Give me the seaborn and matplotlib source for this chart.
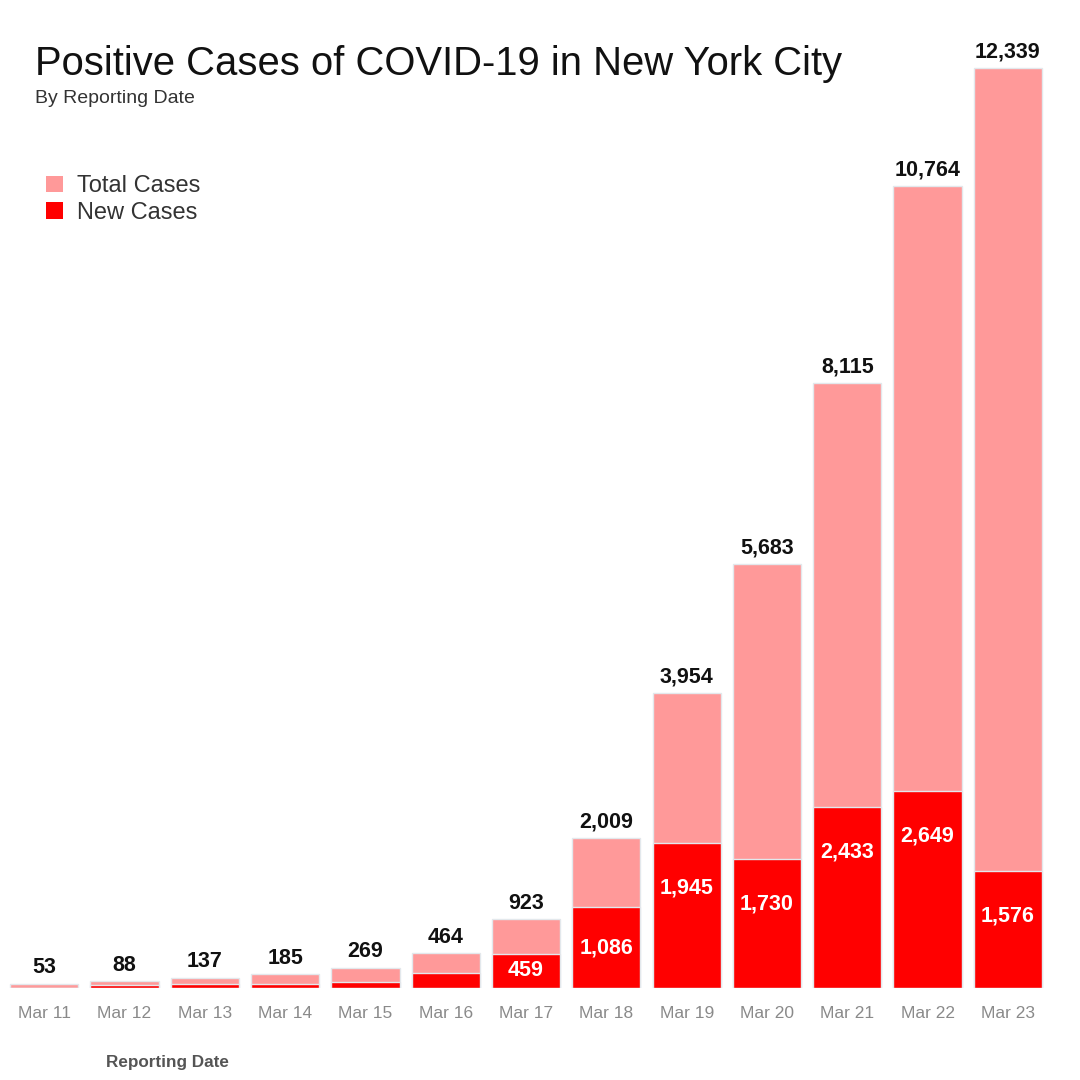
import matplotlib
matplotlib.use('Agg')
import matplotlib.pyplot as plt
from matplotlib.patches import Patch
import seaborn as sns
import pandas as pd

dates = ['Mar 11', 'Mar 12', 'Mar 13', 'Mar 14', 'Mar 15', 'Mar 16', 'Mar 17',
         'Mar 18', 'Mar 19', 'Mar 20', 'Mar 21', 'Mar 22', 'Mar 23']
total_cases = [53, 88, 137, 185, 269, 464, 923, 2009, 3954, 5683, 8115, 10764, 12339]
new_cases = [0, 35, 49, 48, 84, 195, 459, 1086, 1945, 1730, 2433, 2649, 1576]

PINK = '#ff9999'
RED = '#ff0000'
EDGE = '#e3e8ec'

sns.set_theme(style='white')
plt.rcParams['font.family'] = ['Liberation Sans', 'DejaVu Sans']

df = pd.DataFrame({'date': dates, 'total': total_cases, 'new': new_cases})

fig = plt.figure(figsize=(10.8, 10.8), dpi=100)
ax = fig.add_axes([0.0037, 0.0852, 0.9667, 0.897])

sns.barplot(data=df, x='date', y='total', color=PINK, width=0.85,
            edgecolor=EDGE, linewidth=1, saturation=1, ax=ax)
sns.barplot(data=df, x='date', y='new', color=RED, width=0.85,
            edgecolor=EDGE, linewidth=1, saturation=1, ax=ax)

ax.set_xlim(-0.5, len(dates) - 0.5)
ax.set_ylim(0, 13000)
sns.despine(ax=ax, left=True, bottom=True)
ax.set_yticks([])
ax.set_ylabel('')
ax.set_xlabel('')
ax.tick_params(axis='x', length=0, pad=13, labelsize=12.5, labelcolor='#8a8a8a')

# px -> data units for label nudges
px = 13000 / (0.897 * 1080)

for i, (t, n) in enumerate(zip(total_cases, new_cases)):
    ax.annotate(f'{t:,}', (i, t), xytext=(0, 4), textcoords='offset points',
                ha='center', va='bottom', fontsize=15.5, fontweight='bold', color='#111111')
    if n >= 400:
        # centred in short bars, otherwise hung just under the top
        y = max(n / 2, n - 45 * px)
        ax.text(i, y, f'{n:,}', ha='center', va='center', fontsize=15.5,
                fontweight='bold', color='white')

fig.text(35 / 1080, 1 - 75 / 1080, 'Positive Cases of COVID-19 in New York City',
         fontsize=28.8, color='#111111', ha='left', va='baseline')
fig.text(35 / 1080, 1 - 103 / 1080, 'By Reporting Date',
         fontsize=14, color='#333333', ha='left', va='baseline')
fig.text(167 / 1080, 1 - 1063 / 1080, 'Reporting Date', fontsize=12.3,
         fontweight='bold', color='#555555', ha='center', va='center')

handles = [Patch(facecolor=PINK, edgecolor='none', label='Total Cases'),
           Patch(facecolor=RED, edgecolor='none', label='New Cases')]
leg = fig.legend(handles=handles, loc='upper left', bbox_to_anchor=(25 / 1080, 1 - 154 / 1080),
                 frameon=False, fontsize=17, handlelength=0.7, handleheight=0.7,
                 handletextpad=0.6, labelspacing=0.2, labelcolor='#333333')

fig.savefig('out.png', dpi=100)
